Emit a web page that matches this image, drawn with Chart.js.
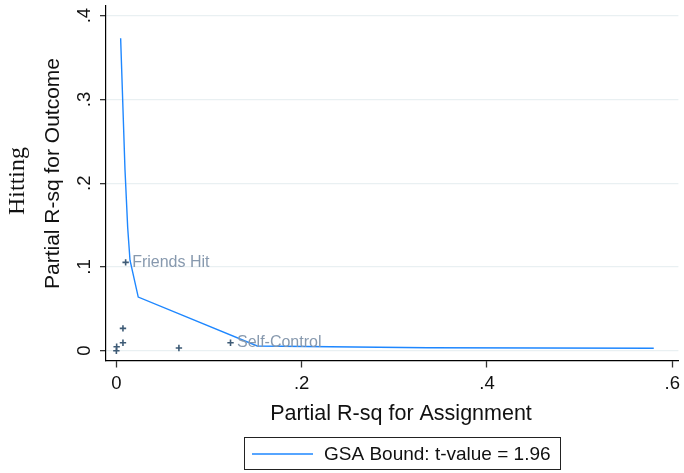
<!DOCTYPE html>
<html>
<head>
<meta charset="utf-8">
<script src="https://cdn.jsdelivr.net/npm/chart.js@4.4.1/dist/chart.umd.min.js"></script>
<style>
  body { margin: 0; background: #fff; }
  canvas { display: block; }
</style>
</head>
<body>
<canvas id="gsa" width="684" height="473"></canvas>
<script>
// GSA bound curve (partial R-sq for assignment vs outcome)
const boundX = [0.0046, 0.0093, 0.0122, 0.0147, 0.0236, 0.152, 0.336, 0.58];
const boundY = [0.373, 0.216, 0.147, 0.108, 0.064, 0.0056, 0.0035, 0.0029];

// observed covariates
const covX = [0.010, 0.0071, 0.0071, 0.0003, 0.0, 0.0675, 0.1232];
const covY = [0.1054, 0.0266, 0.0095, 0.0048, 0.0, 0.0032, 0.0095];
const covNames = ['Friends Hit', '', '', '', '', '', 'Self-Control'];

const xTicks = [0, 0.2, 0.4, 0.6];
const xTickLabels = ['0', '.2', '.4', '.6'];
const yTicks = [0, 0.1, 0.2, 0.3, 0.4];
const yTickLabels = ['0', '.1', '.2', '.3', '.4'];

const sans = '"Liberation Sans", Arial, sans-serif';
const serif = '"Liberation Serif", "Times New Roman", serif';
const lineBlue = '#1e87ff';

const extras = {
  id: 'extras',
  afterDraw(chart) {
    const ctx = chart.ctx;
    ctx.save();

    // covariate labels next to their markers
    const meta = chart.getDatasetMeta(1);
    ctx.font = '16px ' + sans;
    ctx.fillStyle = '#8799ae';
    ctx.textAlign = 'left';
    ctx.textBaseline = 'middle';
    meta.data.forEach((pt, i) => {
      if (covNames[i]) ctx.fillText(covNames[i], pt.x + 6.5, pt.y);
    });

    // axis titles
    ctx.fillStyle = '#111';
    ctx.textAlign = 'center';
    ctx.textBaseline = 'alphabetic';
    ctx.font = '21.5px ' + sans;
    ctx.fillText('Partial R-sq for Assignment', 401, 419.5);

    ctx.save();
    ctx.translate(58.5, 173.5);
    ctx.rotate(-Math.PI / 2);
    ctx.font = '21px ' + sans;
    ctx.fillText('Partial R-sq for Outcome', 0, 0);
    ctx.restore();

    ctx.save();
    ctx.translate(24.2, 181);
    ctx.rotate(-Math.PI / 2);
    ctx.font = '24px ' + serif;
    ctx.fillText('Hitting', 0, 0);
    ctx.restore();

    // legend box
    const ds = chart.data.datasets[0];
    ctx.strokeStyle = '#222';
    ctx.lineWidth = 1;
    ctx.strokeRect(244.5, 437.5, 316, 32);
    ctx.strokeStyle = ds.borderColor;
    ctx.lineWidth = 1.5;
    ctx.beginPath();
    ctx.moveTo(252, 454);
    ctx.lineTo(313, 454);
    ctx.stroke();
    ctx.fillStyle = '#111';
    ctx.font = '19px ' + sans;
    ctx.textAlign = 'left';
    ctx.textBaseline = 'middle';
    ctx.fillText(ds.label, 324, 454.5);

    ctx.restore();
  }
};

new Chart(document.getElementById('gsa'), {
  type: 'scatter',
  data: {
    datasets: [
      {
        label: 'GSA Bound: t-value = 1.96',
        data: boundX.map((x, i) => ({ x: x, y: boundY[i] })),
        showLine: true,
        borderColor: lineBlue,
        borderWidth: 1.4,
        pointRadius: 0,
        tension: 0
      },
      {
        label: 'covariates',
        data: covX.map((x, i) => ({ x: x, y: covY[i] })),
        pointStyle: 'cross',
        pointRadius: 3.2,
        borderColor: '#3e5b76',
        backgroundColor: '#3e5b76',
        borderWidth: 1.6
      }
    ]
  },
  options: {
    responsive: false,
    animation: false,
    events: [],
    layout: { padding: { top: 5, right: 1, left: 0, bottom: 0 } },
    plugins: { legend: { display: false }, tooltip: { enabled: false } },
    scales: {
      x: {
        type: 'linear',
        min: -0.0112,
        max: 0.6066,
        afterBuildTicks: (s) => { s.ticks = xTicks.map(v => ({ value: v })); },
        afterFit: (s) => { s.height = 112; s.paddingLeft = 0; s.paddingRight = 0; },
        border: { color: '#000', width: 1.2 },
        grid: {
          drawOnChartArea: false,
          tickLength: 6.5,
          tickColor: '#333',
          tickWidth: 1.3
        },
        ticks: {
          font: { family: sans, size: 18.5 },
          color: '#111',
          padding: 5,
          maxRotation: 0,
          callback: (v, i) => xTickLabels[i]
        }
      },
      y: {
        type: 'linear',
        min: -0.0123,
        max: 0.412,
        afterBuildTicks: (s) => { s.ticks = yTicks.map(v => ({ value: v })); },
        afterFit: (s) => { s.width = 106; s.paddingTop = 0; s.paddingBottom = 0; },
        border: { color: '#000', width: 1.2 },
        grid: {
          color: '#e9f0f2',
          lineWidth: 1.3,
          tickLength: 6,
          tickColor: '#333',
          tickWidth: 1.3
        },
        ticks: {
          font: { family: sans, size: 18.5 },
          color: '#111',
          padding: 7,
          minRotation: 90,
          maxRotation: 90,
          crossAlign: 'center',
          callback: (v, i) => yTickLabels[i]
        }
      }
    }
  },
  plugins: [extras]
});
</script>
</body>
</html>
